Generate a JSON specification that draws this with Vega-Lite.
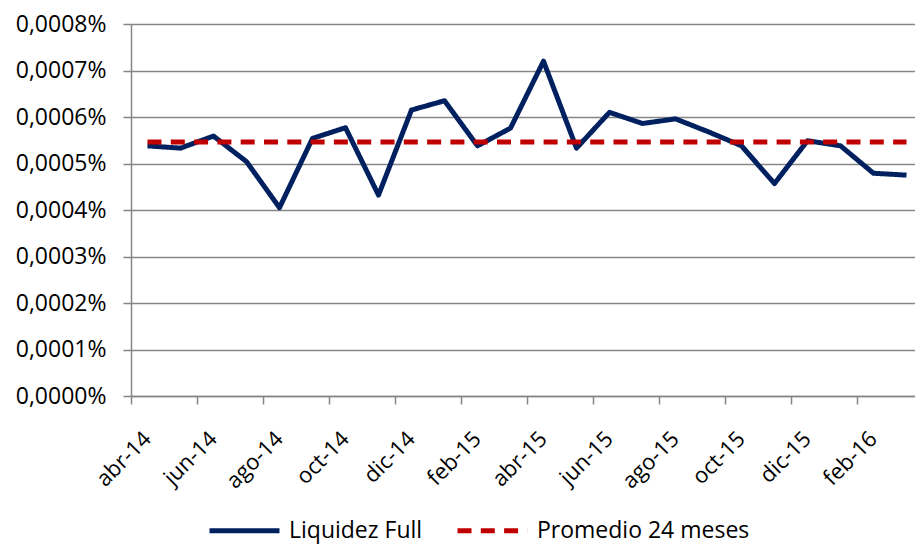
{
  "$schema": "https://vega.github.io/schema/vega-lite/v6.json",
  "width": 784,
  "height": 372,
  "autosize": {"type": "none"},
  "padding": {"left": 131, "top": 24, "right": 0, "bottom": 148},
  "background": "white",
  "config": {
    "font": "Open Sans",
    "view": {"stroke": null}
  },
  "data": {
    "values": [
      {"mes": "abr-14", "serie": "Liquidez Full", "valor": 0.000538},
      {"mes": "may-14", "serie": "Liquidez Full", "valor": 0.000533},
      {"mes": "jun-14", "serie": "Liquidez Full", "valor": 0.000559},
      {"mes": "jul-14", "serie": "Liquidez Full", "valor": 0.000504},
      {"mes": "ago-14", "serie": "Liquidez Full", "valor": 0.000405},
      {"mes": "sep-14", "serie": "Liquidez Full", "valor": 0.000554},
      {"mes": "oct-14", "serie": "Liquidez Full", "valor": 0.000577},
      {"mes": "nov-14", "serie": "Liquidez Full", "valor": 0.000432},
      {"mes": "dic-14", "serie": "Liquidez Full", "valor": 0.000615},
      {"mes": "ene-15", "serie": "Liquidez Full", "valor": 0.000635},
      {"mes": "feb-15", "serie": "Liquidez Full", "valor": 0.000538},
      {"mes": "mar-15", "serie": "Liquidez Full", "valor": 0.000576},
      {"mes": "abr-15", "serie": "Liquidez Full", "valor": 0.000720},
      {"mes": "may-15", "serie": "Liquidez Full", "valor": 0.000533},
      {"mes": "jun-15", "serie": "Liquidez Full", "valor": 0.000610},
      {"mes": "jul-15", "serie": "Liquidez Full", "valor": 0.000586},
      {"mes": "ago-15", "serie": "Liquidez Full", "valor": 0.000596},
      {"mes": "sep-15", "serie": "Liquidez Full", "valor": 0.000568},
      {"mes": "oct-15", "serie": "Liquidez Full", "valor": 0.000538},
      {"mes": "nov-15", "serie": "Liquidez Full", "valor": 0.000457},
      {"mes": "dic-15", "serie": "Liquidez Full", "valor": 0.000549},
      {"mes": "ene-16", "serie": "Liquidez Full", "valor": 0.000538},
      {"mes": "feb-16", "serie": "Liquidez Full", "valor": 0.000479},
      {"mes": "mar-16", "serie": "Liquidez Full", "valor": 0.000475},
      {"mes": "abr-14", "serie": "Promedio 24 meses", "valor": 0.000546},
      {"mes": "may-14", "serie": "Promedio 24 meses", "valor": 0.000546},
      {"mes": "jun-14", "serie": "Promedio 24 meses", "valor": 0.000546},
      {"mes": "jul-14", "serie": "Promedio 24 meses", "valor": 0.000546},
      {"mes": "ago-14", "serie": "Promedio 24 meses", "valor": 0.000546},
      {"mes": "sep-14", "serie": "Promedio 24 meses", "valor": 0.000546},
      {"mes": "oct-14", "serie": "Promedio 24 meses", "valor": 0.000546},
      {"mes": "nov-14", "serie": "Promedio 24 meses", "valor": 0.000546},
      {"mes": "dic-14", "serie": "Promedio 24 meses", "valor": 0.000546},
      {"mes": "ene-15", "serie": "Promedio 24 meses", "valor": 0.000546},
      {"mes": "feb-15", "serie": "Promedio 24 meses", "valor": 0.000546},
      {"mes": "mar-15", "serie": "Promedio 24 meses", "valor": 0.000546},
      {"mes": "abr-15", "serie": "Promedio 24 meses", "valor": 0.000546},
      {"mes": "may-15", "serie": "Promedio 24 meses", "valor": 0.000546},
      {"mes": "jun-15", "serie": "Promedio 24 meses", "valor": 0.000546},
      {"mes": "jul-15", "serie": "Promedio 24 meses", "valor": 0.000546},
      {"mes": "ago-15", "serie": "Promedio 24 meses", "valor": 0.000546},
      {"mes": "sep-15", "serie": "Promedio 24 meses", "valor": 0.000546},
      {"mes": "oct-15", "serie": "Promedio 24 meses", "valor": 0.000546},
      {"mes": "nov-15", "serie": "Promedio 24 meses", "valor": 0.000546},
      {"mes": "dic-15", "serie": "Promedio 24 meses", "valor": 0.000546},
      {"mes": "ene-16", "serie": "Promedio 24 meses", "valor": 0.000546},
      {"mes": "feb-16", "serie": "Promedio 24 meses", "valor": 0.000546},
      {"mes": "mar-16", "serie": "Promedio 24 meses", "valor": 0.000546}
    ]
  },
  "mark": {"type": "line", "strokeWidth": 5, "strokeCap": "butt", "strokeJoin": "round"},
  "encoding": {
    "x": {
      "field": "mes",
      "type": "ordinal",
      "sort": null,
      "scale": {"type": "band", "paddingInner": 0, "paddingOuter": 0, "range": [0, 792]},
      "axis": {
        "title": null,
        "grid": false,
        "values": ["abr-14", "jun-14", "ago-14", "oct-14", "dic-14", "feb-15", "abr-15", "jun-15", "ago-15", "oct-15", "dic-15", "feb-16"],
        "bandPosition": 0,
        "labelAngle": -45,
        "labelAlign": "right",
        "labelBaseline": "middle",
        "labelFontSize": 22,
        "labelColor": "#000000",
        "labelPadding": 31,
        "tickSize": 8,
        "tickWidth": 1.5,
        "tickColor": "#868686",
        "domainColor": "#868686",
        "domainWidth": 1.5
      }
    },
    "y": {
      "field": "valor",
      "type": "quantitative",
      "scale": {"domain": [0, 0.0008], "nice": false, "zero": true},
      "axis": {
        "title": null,
        "values": [0, 0.0001, 0.0002, 0.0003, 0.0004, 0.0005, 0.0006, 0.0007, 0.0008],
        "labelExpr": "replace(format(datum.value, '.4f'), '.', ',') + '%'",
        "labelFontSize": 23,
        "labelColor": "#000000",
        "labelPadding": 17,
        "tickSize": 8,
        "tickWidth": 1.5,
        "tickColor": "#868686",
        "domainColor": "#868686",
        "domainWidth": 1.5,
        "grid": true,
        "gridColor": "#868686",
        "gridWidth": 1.5
      }
    },
    "color": {
      "field": "serie",
      "type": "nominal",
      "scale": {"domain": ["Liquidez Full", "Promedio 24 meses"], "range": ["#002060", "#C00000"]},
      "legend": {
        "orient": "none",
        "legendX": 76,
        "legendY": 469,
        "direction": "horizontal",
        "title": null,
        "labelFontSize": 23,
        "labelColor": "#000000",
        "labelLimit": 400,
        "symbolType": "stroke",
        "symbolSize": 4900,
        "symbolStrokeWidth": 5,
        "labelOffset": 7,
        "columnPadding": 24
      }
    },
    "strokeDash": {
      "field": "serie",
      "type": "nominal",
      "scale": {"domain": ["Liquidez Full", "Promedio 24 meses"], "range": [[1, 0], [14, 9.3]]},
      "legend": {
        "orient": "none",
        "legendX": 76,
        "legendY": 469,
        "direction": "horizontal",
        "title": null,
        "labelFontSize": 23,
        "labelColor": "#000000",
        "labelLimit": 400,
        "symbolType": "stroke",
        "symbolSize": 4900,
        "symbolStrokeWidth": 5,
        "labelOffset": 7,
        "columnPadding": 24
      }
    }
  }
}
